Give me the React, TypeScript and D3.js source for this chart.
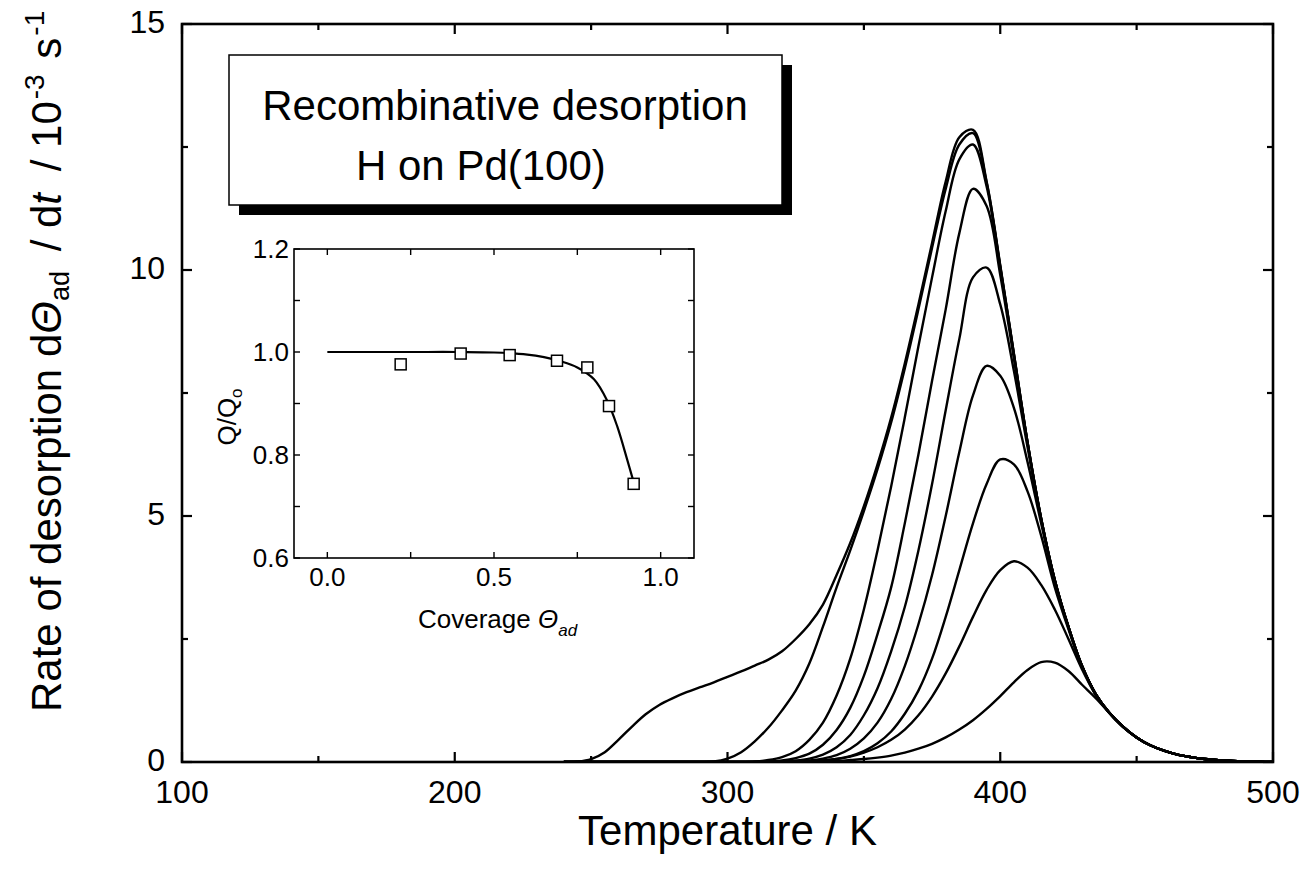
import React from "react";
import * as d3 from "d3";

// Temperature grid (K)
const temps = [240,245,250,255,260,265,270,275,280,285,290,295,300,305,310,315,320,325,330,335,340,345,350,355,360,365,370,375,380,385,390,395,400,405,410,415,420,425,430,435,440,445,450,455,460,465,470,475,480,485,490,495,500];

// Desorption rate curves (10^-3 s^-1), one per initial coverage
const rateA = [0,0.01,0.06,0.2,0.45,0.72,0.97,1.16,1.3,1.42,1.52,1.62,1.73,1.84,1.96,2.08,2.25,2.5,2.8,3.2,3.8,4.45,5.2,6.05,7.0,8.1,9.3,10.55,11.8,12.7,12.85,11.8,10.1,8.3,6.5,4.95,3.7,2.75,1.95,1.38,1.0,0.72,0.5,0.34,0.23,0.15,0.1,0.06,0.035,0.02,0.01,0.004,0];
const rateB = [0,0,0,0,0,0,0,0,0,0,0,0.01,0.07,0.2,0.42,0.7,1.05,1.45,2.0,2.75,3.55,4.3,5.1,5.95,6.9,8.0,9.2,10.45,11.65,12.55,12.78,11.78,10.08,8.3,6.5,4.95,3.7,2.75,1.95,1.38,1.0,0.72,0.5,0.34,0.23,0.15,0.1,0.06,0.035,0.02,0.01,0.004,0];
const rateC = [0,0,0,0,0,0,0,0,0,0,0,0,0,0,0.01,0.04,0.1,0.22,0.45,0.8,1.35,2.1,3.1,4.3,5.6,7.0,8.45,9.85,11.2,12.25,12.55,11.7,10.05,8.28,6.5,4.95,3.7,2.75,1.95,1.38,1.0,0.72,0.5,0.34,0.23,0.15,0.1,0.06,0.035,0.02,0.01,0.004,0];
const rateD = [0,0,0,0,0,0,0,0,0,0,0,0,0,0,0,0.01,0.03,0.08,0.17,0.35,0.65,1.1,1.75,2.6,3.55,4.85,6.25,7.75,9.2,10.75,11.65,11.3,9.9,8.2,6.48,4.94,3.7,2.75,1.95,1.38,1.0,0.72,0.5,0.34,0.23,0.15,0.1,0.06,0.035,0.02,0.01,0.004,0];
const rateE = [0,0,0,0,0,0,0,0,0,0,0,0,0,0,0,0,0.01,0.03,0.07,0.15,0.3,0.55,0.95,1.5,2.25,3.15,4.3,5.65,7.15,8.6,9.85,10.05,9.3,7.95,6.4,4.92,3.68,2.74,1.95,1.38,1.0,0.72,0.5,0.34,0.23,0.15,0.1,0.06,0.035,0.02,0.01,0.004,0];
const rateF = [0,0,0,0,0,0,0,0,0,0,0,0,0,0,0,0,0,0.01,0.03,0.07,0.14,0.27,0.48,0.8,1.28,1.95,2.8,3.8,5.0,6.3,7.45,8.05,7.85,7.2,6.1,4.85,3.66,2.73,1.94,1.38,1.0,0.72,0.5,0.34,0.23,0.15,0.1,0.06,0.035,0.02,0.01,0.004,0];
const rateG = [0,0,0,0,0,0,0,0,0,0,0,0,0,0,0,0,0,0,0.01,0.03,0.06,0.12,0.22,0.38,0.62,0.98,1.45,2.1,2.95,3.9,4.85,5.65,6.15,6.05,5.5,4.6,3.55,2.7,1.93,1.37,1.0,0.72,0.5,0.34,0.23,0.15,0.1,0.06,0.035,0.02,0.01,0.004,0];
const rateH = [0,0,0,0,0,0,0,0,0,0,0,0,0,0,0,0,0,0,0.01,0.03,0.06,0.11,0.19,0.3,0.45,0.66,0.95,1.33,1.8,2.35,2.95,3.5,3.9,4.08,3.95,3.6,3.1,2.5,1.88,1.36,0.99,0.72,0.5,0.34,0.23,0.15,0.1,0.06,0.035,0.02,0.01,0.004,0];
const rateI = [0,0,0,0,0,0,0,0,0,0,0,0,0,0,0,0,0,0,0,0.01,0.02,0.04,0.06,0.09,0.13,0.19,0.27,0.37,0.5,0.66,0.85,1.08,1.34,1.62,1.87,2.03,2.02,1.85,1.57,1.3,1.0,0.71,0.5,0.34,0.23,0.15,0.1,0.06,0.035,0.02,0.01,0.004,0];
const rateCurves = [rateA, rateB, rateC, rateD, rateE, rateF, rateG, rateH, rateI];

// Main axes ticks
const xMajorTicks = [100, 200, 300, 400, 500];
const xMinorTicks = [150, 250, 350, 450];
const yMajorTicks = [0, 5, 10, 15];
const yMinorTicks = [2.5, 7.5, 12.5];

// Inset: Q/Q0 vs coverage
const coverage = [0.22, 0.40, 0.547, 0.689, 0.78, 0.845, 0.919];
const qRatio = [0.976, 0.997, 0.994, 0.983, 0.970, 0.895, 0.744];
const fitCoverage = [0, 0.1, 0.2, 0.3, 0.4, 0.5, 0.6, 0.65, 0.7, 0.75, 0.8, 0.84, 0.87, 0.9, 0.92];
const fitQ = [1.0, 1.0, 1.0, 1.0, 1.0, 0.999, 0.995, 0.99, 0.982, 0.97, 0.947, 0.905, 0.855, 0.79, 0.745];
const insetXTicks = [0, 0.5, 1.0];
const insetXMinor = [0.25, 0.75];
const insetYTicks = [0.6, 0.8, 1.0, 1.2];
const insetYMinor = [0.7, 0.9, 1.1];

const FONT = "'Liberation Sans', Arial, Helvetica, sans-serif";

export default function App() {
  const W = 1306, H = 885;
  const left = 182, right = 1273, top = 24, bottom = 762;
  const x = d3.scaleLinear().domain([100, 500]).range([left, right]);
  const y = d3.scaleLinear().domain([0, 15]).range([bottom, top]);

  const line = d3
    .line<number>()
    .x((_, i) => x(temps[i]))
    .y((d) => y(d))
    .curve(d3.curveCatmullRom.alpha(0.5));

  // inset
  const iL = 294, iR = 694, iT = 249, iB = 558;
  const ix = d3.scaleLinear().domain([-0.1, 1.1]).range([iL, iR]);
  const iy = d3.scaleLinear().domain([0.6, 1.2]).range([iB, iT]);
  const fitLine = d3
    .line<number>()
    .x((_, i) => ix(fitCoverage[i]))
    .y((d) => iy(d))
    .curve(d3.curveCatmullRom.alpha(0.5));

  const majLen = 10, minLen = 6, iTick = 6;

  return (
    <svg
      width={W}
      height={H}
      style={{ position: "absolute", left: 0, top: 0, background: "#fff" }}
      fontFamily={FONT}
    >
      <defs>
        <clipPath id="plotClip">
          <rect x={left} y={top} width={right - left} height={bottom - top} />
        </clipPath>
      </defs>

      {/* curves */}
      <g clipPath="url(#plotClip)">
        {rateCurves.map((c, k) => (
          <path key={k} d={line(c) || ""} fill="none" stroke="#000" strokeWidth={2.4} />
        ))}
      </g>

      {/* frame */}
      <rect x={left} y={top} width={right - left} height={bottom - top} fill="none" stroke="#000" strokeWidth={2.6} />

      {/* x ticks */}
      {xMajorTicks.map((t) => (
        <g key={"xM" + t}>
          <line x1={x(t)} x2={x(t)} y1={bottom} y2={bottom - majLen} stroke="#000" strokeWidth={2.2} />
          <line x1={x(t)} x2={x(t)} y1={top} y2={top + majLen} stroke="#000" strokeWidth={2.2} />
          <text x={x(t)} y={803} fontSize={32} textAnchor="middle">{t}</text>
        </g>
      ))}
      {xMinorTicks.map((t) => (
        <g key={"xm" + t}>
          <line x1={x(t)} x2={x(t)} y1={bottom} y2={bottom - minLen} stroke="#000" strokeWidth={2.2} />
          <line x1={x(t)} x2={x(t)} y1={top} y2={top + minLen} stroke="#000" strokeWidth={2.2} />
        </g>
      ))}
      {yMajorTicks.map((t) => (
        <g key={"yM" + t}>
          <line x1={left} x2={left + majLen} y1={y(t)} y2={y(t)} stroke="#000" strokeWidth={2.2} />
          <line x1={right} x2={right - majLen} y1={y(t)} y2={y(t)} stroke="#000" strokeWidth={2.2} />
          <text x={165} y={y(t) + 9} fontSize={32} textAnchor="end">{t}</text>
        </g>
      ))}
      {yMinorTicks.map((t) => (
        <g key={"ym" + t}>
          <line x1={left} x2={left + minLen} y1={y(t)} y2={y(t)} stroke="#000" strokeWidth={2.2} />
          <line x1={right} x2={right - minLen} y1={y(t)} y2={y(t)} stroke="#000" strokeWidth={2.2} />
        </g>
      ))}

      {/* axis titles */}
      <text x={(left + right) / 2} y={845} fontSize={42} textAnchor="middle">Temperature / K</text>
      <text transform="translate(61, 712) rotate(-90)" fontSize={42}>
        <tspan>Rate of desorption d</tspan>
        <tspan fontStyle="italic">Θ</tspan>
        <tspan fontSize={27} dy={8}>ad</tspan>
        <tspan dy={-8} dx={8}> / d</tspan>
        <tspan fontStyle="italic">t</tspan>
        <tspan dx={10}> / 10</tspan>
        <tspan fontSize={28} dy={-17} dx={2}>-3</tspan>
        <tspan dy={17} dx={4}> s</tspan>
        <tspan fontSize={28} dy={-17} dx={2}>-1</tspan>
      </text>

      {/* title box */}
      <rect x={239} y={65} width={553} height={150} fill="#000" />
      <rect x={229} y={55} width={553} height={150} fill="#fff" stroke="#000" strokeWidth={1.5} />
      <text x={505} y={120} fontSize={42} textAnchor="middle">Recombinative desorption</text>
      <text x={356} y={180} fontSize={42}>H on Pd(100)</text>

      {/* inset */}
      <rect x={iL} y={iT} width={iR - iL} height={iB - iT} fill="#fff" stroke="#000" strokeWidth={1.6} />
      {insetXTicks.concat(insetXMinor).map((t) => (
        <g key={"ix" + t}>
          <line x1={ix(t)} x2={ix(t)} y1={iB} y2={iB - iTick} stroke="#000" strokeWidth={1.4} />
          <line x1={ix(t)} x2={ix(t)} y1={iT} y2={iT + iTick} stroke="#000" strokeWidth={1.4} />
        </g>
      ))}
      {insetXTicks.map((t) => (
        <text key={"ixl" + t} x={ix(t)} y={586} fontSize={26} textAnchor="middle">{t.toFixed(1)}</text>
      ))}
      {insetYTicks.concat(insetYMinor).map((t) => (
        <g key={"iy" + t}>
          <line x1={iL} x2={iL + iTick} y1={iy(t)} y2={iy(t)} stroke="#000" strokeWidth={1.4} />
          <line x1={iR} x2={iR - iTick} y1={iy(t)} y2={iy(t)} stroke="#000" strokeWidth={1.4} />
        </g>
      ))}
      {insetYTicks.map((t) => (
        <text key={"iyl" + t} x={289} y={iy(t) + 9} fontSize={26} textAnchor="end">{t.toFixed(1)}</text>
      ))}
      <path d={fitLine(fitQ) || ""} fill="none" stroke="#000" strokeWidth={2.2} />
      {coverage.map((c, i) => (
        <rect key={"sq" + i} x={ix(c) - 5.5} y={iy(qRatio[i]) - 5.5} width={11} height={11} fill="#fff" stroke="#000" strokeWidth={1.5} />
      ))}
      <text x={418} y={628} fontSize={26}>
        <tspan>Coverage </tspan>
        <tspan fontStyle="italic">Θ</tspan>
        <tspan fontStyle="italic" fontSize={17} dy={8}>ad</tspan>
      </text>
      <text transform="translate(236, 417) rotate(-90)" fontSize={26} textAnchor="middle">
        <tspan>Q/Q</tspan>
        <tspan fontSize={17} dy={6}>o</tspan>
      </text>
    </svg>
  );
}
